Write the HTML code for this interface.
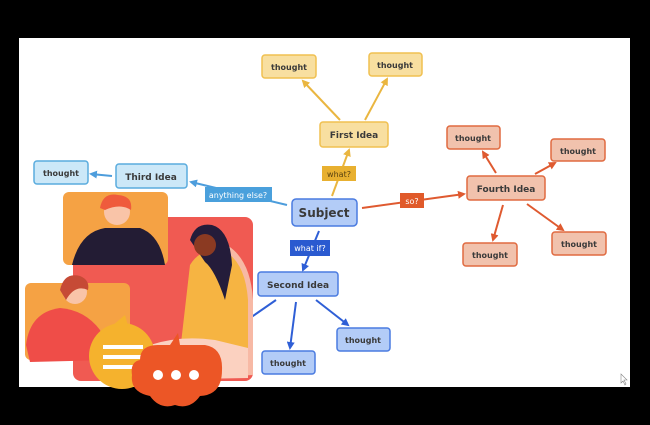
<!DOCTYPE html>
<html><head><style>body{margin:0;background:#000}svg{display:block}text{font-family:"DejaVu Sans","Liberation Sans",sans-serif}</style></head><body>
<svg width="650" height="425" viewBox="0 0 650 425" xmlns="http://www.w3.org/2000/svg">
<defs>
<marker id="ay" markerWidth="8" markerHeight="8" refX="6" refY="4" orient="auto" markerUnits="userSpaceOnUse"><path d="M0,0 L8,4 L0,8z" fill="#eab640"/></marker>
<marker id="ao" markerWidth="8" markerHeight="8" refX="6" refY="4" orient="auto" markerUnits="userSpaceOnUse"><path d="M0,0 L8,4 L0,8z" fill="#df5a30"/></marker>
<marker id="ab" markerWidth="8" markerHeight="8" refX="6" refY="4" orient="auto" markerUnits="userSpaceOnUse"><path d="M0,0 L8,4 L0,8z" fill="#2f5fd6"/></marker>
<marker id="al" markerWidth="8" markerHeight="8" refX="6" refY="4" orient="auto" markerUnits="userSpaceOnUse"><path d="M0,0 L8,4 L0,8z" fill="#4d9ddc"/></marker>
</defs>
<rect x="0" y="0" width="650" height="425" fill="#000"/>
<rect x="19" y="38" width="611" height="349" fill="#fff"/>
<!-- edges -->
<g stroke-width="2" fill="none">
<line x1="340" y1="120" x2="303" y2="81" stroke="#eab640" marker-end="url(#ay)"/>
<line x1="365" y1="120" x2="387" y2="79" stroke="#eab640" marker-end="url(#ay)"/>
<line x1="332" y1="196" x2="349" y2="150" stroke="#eab640" marker-end="url(#ay)"/>
<line x1="362" y1="208" x2="464" y2="194" stroke="#df5a30" marker-end="url(#ao)"/>
<line x1="496" y1="173" x2="483" y2="152" stroke="#df5a30" marker-end="url(#ao)"/>
<line x1="535" y1="174" x2="555" y2="163" stroke="#df5a30" marker-end="url(#ao)"/>
<line x1="503" y1="205" x2="493" y2="240" stroke="#df5a30" marker-end="url(#ao)"/>
<line x1="527" y1="204" x2="563" y2="230" stroke="#df5a30" marker-end="url(#ao)"/>
<line x1="287" y1="205" x2="191" y2="182" stroke="#4d9ddc" marker-end="url(#al)"/>
<line x1="112" y1="176" x2="91" y2="174" stroke="#4d9ddc" marker-end="url(#al)"/>
<line x1="319" y1="231" x2="303" y2="270" stroke="#2f5fd6" marker-end="url(#ab)"/>
<line x1="296" y1="302" x2="290" y2="348" stroke="#2f5fd6" marker-end="url(#ab)"/>
<line x1="316" y1="300" x2="348" y2="325" stroke="#2f5fd6" marker-end="url(#ab)"/>
<line x1="276" y1="300" x2="250" y2="318" stroke="#2f5fd6"/>
</g>
<!-- illustration -->
<rect x="73" y="217" width="180" height="164" rx="8" fill="#f05a52"/>
<path d="M215,240 Q250,250 253,300 L253,375 L200,378 Z" fill="#f7b9a5"/>
<rect x="63" y="192" width="105" height="73" rx="6" fill="#f5a244"/>
<path d="M72,265 Q80,232 105,228 L140,228 Q160,235 165,265 Z" fill="#231c34"/>
<circle cx="117" cy="212" r="13" fill="#f9c4a8"/>
<path d="M100,208 Q103,192 118,195 Q133,196 131,210 Q120,203 105,210 Z" fill="#ef5b3c"/>
<path d="M190,265 Q200,248 222,250 Q245,260 248,300 L248,350 L180,352 Z" fill="#f6b442"/>
<path d="M190,240 Q195,222 212,225 Q230,230 232,265 L225,300 Q215,270 205,262 Z" fill="#241c3a"/>
<circle cx="205" cy="245" r="11" fill="#8b3a22"/>
<rect x="25" y="283" width="105" height="77" rx="6" fill="#f5a244"/>
<path d="M26,345 Q30,312 60,308 Q85,310 100,330 L110,360 L30,362 Z" fill="#ef4d48"/>
<circle cx="75" cy="292" r="12" fill="#f9c4a8"/>
<path d="M60,290 Q64,272 80,276 Q90,280 88,290 Q75,284 66,300 Z" fill="#c64a36"/>
<path d="M150,345 Q180,335 215,340 L248,348 L248,378 L140,380 Z" fill="#fbd1c0"/>
<circle cx="122" cy="356" r="33" fill="#f5b22d"/>
<path d="M112,326 L125,315 L128,326 Z" fill="#f5b22d"/>
<rect x="103" y="345" width="40" height="4" fill="#fff"/><rect x="103" y="355" width="40" height="4" fill="#fff"/><rect x="103" y="365" width="40" height="4" fill="#fff"/>
<path d="M140,360 Q140,345 158,345 L170,345 L178,333 L180,345 L205,345 Q223,348 222,370 Q222,395 200,396 Q190,410 175,405 Q160,410 150,396 Q130,392 132,375 Q130,362 140,360 Z" fill="#ec5626"/>
<circle cx="158" cy="375" r="5" fill="#fff"/><circle cx="176" cy="375" r="5" fill="#fff"/><circle cx="194" cy="375" r="5" fill="#fff"/>
<!-- nodes -->
<g font-weight="bold" text-anchor="middle" fill="#3a3a3a">
<rect x="262" y="55" width="54" height="23" rx="3" fill="#f8dfa0" stroke="#f0c050" stroke-width="1.5"/><text x="289" y="70" font-size="8">thought</text>
<rect x="369" y="53" width="53" height="23" rx="3" fill="#f8dfa0" stroke="#f0c050" stroke-width="1.5"/><text x="395" y="68" font-size="8">thought</text>
<rect x="320" y="122" width="68" height="25" rx="3" fill="#f8dfa0" stroke="#f0c050" stroke-width="1.5"/><text x="354" y="138" font-size="9">First Idea</text>
<rect x="292" y="199" width="65" height="27" rx="4" fill="#b3ccf7" stroke="#4a7be0" stroke-width="1.5"/><text x="324" y="217" font-size="12">Subject</text>
<rect x="467" y="176" width="78" height="24" rx="3" fill="#f1c2ad" stroke="#e06a40" stroke-width="1.5"/><text x="506" y="192" font-size="9">Fourth Idea</text>
<rect x="447" y="126" width="53" height="23" rx="3" fill="#f1c2ad" stroke="#e06a40" stroke-width="1.5"/><text x="473" y="141" font-size="8">thought</text>
<rect x="551" y="139" width="54" height="22" rx="3" fill="#f1c2ad" stroke="#e06a40" stroke-width="1.5"/><text x="578" y="154" font-size="8">thought</text>
<rect x="463" y="243" width="54" height="23" rx="3" fill="#f1c2ad" stroke="#e06a40" stroke-width="1.5"/><text x="490" y="258" font-size="8">thought</text>
<rect x="552" y="232" width="54" height="23" rx="3" fill="#f1c2ad" stroke="#e06a40" stroke-width="1.5"/><text x="579" y="247" font-size="8">thought</text>
<rect x="116" y="164" width="71" height="24" rx="3" fill="#cce8f8" stroke="#5aacde" stroke-width="1.5"/><text x="151" y="180" font-size="9">Third Idea</text>
<rect x="34" y="161" width="54" height="23" rx="3" fill="#cce8f8" stroke="#5aacde" stroke-width="1.5"/><text x="61" y="176" font-size="8">thought</text>
<rect x="258" y="272" width="80" height="24" rx="3" fill="#b3ccf7" stroke="#4a7be0" stroke-width="1.5"/><text x="298" y="288" font-size="9">Second Idea</text>
<rect x="262" y="351" width="53" height="23" rx="3" fill="#b3ccf7" stroke="#4a7be0" stroke-width="1.5"/><text x="288" y="366" font-size="8">thought</text>
<rect x="337" y="328" width="53" height="23" rx="3" fill="#b3ccf7" stroke="#4a7be0" stroke-width="1.5"/><text x="363" y="343" font-size="8">thought</text>
</g>
<!-- labels -->
<g font-size="8" text-anchor="middle">
<rect x="322" y="166" width="34" height="15" fill="#e8b030"/><text x="339" y="177" fill="#5a4210">what?</text>
<rect x="400" y="193" width="24" height="15" fill="#e05a2a"/><text x="412" y="204" fill="#fff">so?</text>
<rect x="205" y="187" width="67" height="15" fill="#4aa0dc"/><text x="238" y="198" fill="#fff">anything else?</text>
<rect x="290" y="240" width="40" height="16" fill="#2a5ad0"/><text x="310" y="251" fill="#fff">what if?</text>
</g>
<path d="M621,374 L621,383 L623,381 L625,385 L626,384 L624,380 L627,380 Z" fill="#fff" stroke="#888" stroke-width="0.6"/>
</svg>
</body></html>
